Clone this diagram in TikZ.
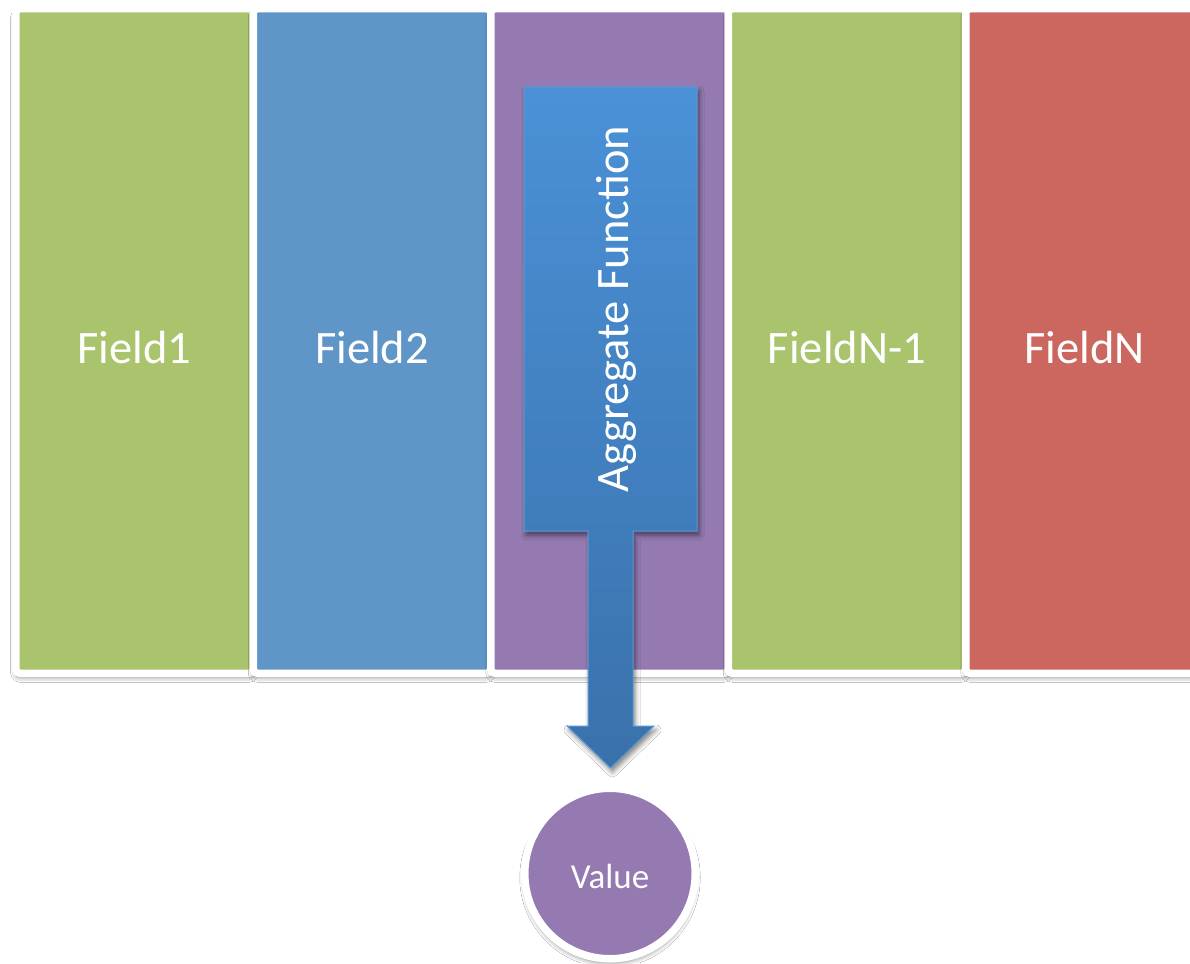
\documentclass[tikz,border=0pt]{standalone}
\usepackage{fontspec}
\setmainfont{Carlito}
\usetikzlibrary{shadows.blur}
\definecolor{fgreen}{HTML}{AAC36D}
\definecolor{fblue}{HTML}{6095C8}
\definecolor{fpurple}{HTML}{947AB1}
\definecolor{fred}{HTML}{CC6760}
\definecolor{atop}{HTML}{4A91D7}
\definecolor{abot}{HTML}{3A71AB}
\definecolor{aline}{HTML}{5B9BD5}
\begin{document}
\begin{tikzpicture}[x=1pt,y=-1pt,
  panel/.style={rectangle, draw=white, line width=7.5pt, rounded corners=4pt,
    minimum width=237.5pt, minimum height=664.5pt, inner sep=0pt,
    blur shadow={shadow xshift=0pt, shadow yshift=-4pt, shadow blur radius=5pt, shadow opacity=50}},
  lbl/.style={text=white, font=\fontsize{46.5}{50}\selectfont, inner sep=0pt}]
\useasboundingbox[fill=white] (0,0) rectangle (1190,963);
% panels
\node[panel, fill=fgreen]  (p1) at (134.5,341) {};
\node[panel, fill=fblue]   (p2) at (372,341) {};
\node[panel, fill=fpurple] (p3) at (609.5,341) {};
\node[panel, fill=fgreen]  (p4) at (847,341) {};
\node[panel, fill=fred]    (p5) at (1084.5,341) {};
\node[lbl] (t1) at (134.5,347.5) {Field1};
\node[lbl] (t2) at (372,347.5) {Field2};
\node[lbl] (t4) at (847,347.5) {FieldN-1};
\node[lbl] (t5) at (1084.5,347.5) {FieldN};
% block arrow
\path[blur shadow={shadow xshift=2pt, shadow yshift=-4pt, shadow blur radius=5pt, shadow opacity=50},
  top color=atop, bottom color=abot, draw=aline, line width=1pt]
  (524,87) -- (697,87) -- (697,531) -- (633,531) -- (633,726) -- (654,726)
  -- (610.5,768) -- (567,726) -- (588,726) -- (588,531) -- (524,531) -- cycle;
\node[lbl, rotate=90] (agg) at (616,309) {Aggregate Function};
% value circle
\node[circle, fill=fpurple, draw=white, line width=7.5pt, minimum size=170.5pt, inner sep=0pt,
  blur shadow={shadow xshift=0pt, shadow yshift=-4pt, shadow blur radius=5pt, shadow opacity=50}]
  (val) at (610,873.5) {};
\node[text=white, font=\fontsize{35}{40}\selectfont, inner sep=0pt] (vtxt) at (610,876.5) {Value};
\end{tikzpicture}
\end{document}
